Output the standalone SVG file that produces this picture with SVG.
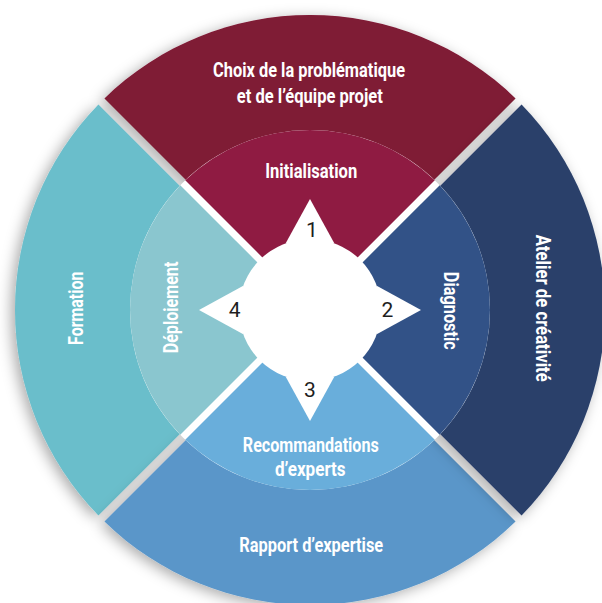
<svg xmlns="http://www.w3.org/2000/svg" width="602" height="603" viewBox="0 0 602 603">
  <defs>
    <filter id="sh" x="-20%" y="-20%" width="140%" height="140%">
      <feGaussianBlur in="SourceAlpha" stdDeviation="7"/>
      <feOffset dx="-4" dy="3" result="b"/>
      <feFlood flood-color="#000" flood-opacity="0.33"/>
      <feComposite in2="b" operator="in"/>
      <feMerge><feMergeNode/><feMergeNode in="SourceGraphic"/></feMerge>
    </filter>
  </defs>
  <style>
    .lbl { font-family: Roboto, "DejaVu Sans Condensed", "Liberation Sans", sans-serif; font-weight: 700; font-size: 20px; fill: #ffffff; text-anchor: middle; }
    .num { font-family: Roboto, "Liberation Sans", sans-serif; font-weight: 400; font-size: 21px; fill: #1e1e1e; text-anchor: middle; }
  </style>
  <rect width="602" height="603" fill="#ffffff"/>

  <!-- outer ring -->
  <g id="outer-top" filter="url(#sh)">
    <path d="M310,303.99 L104.43,98.42 A295,295 0 0 1 515.57,98.42 Z" fill="#7F1A35"/>
  </g>
  <g id="outer-left" filter="url(#sh)">
    <path d="M303.99,310 L98.42,515.57 A295,295 0 0 1 98.42,104.43 Z" fill="#6BBECB"/>
  </g>
  <g id="outer-bottom" filter="url(#sh)">
    <path d="M310,316.01 L515.57,521.58 A295,295 0 0 1 104.43,521.58 Z" fill="#5A96C9"/>
  </g>
  <g id="outer-right" filter="url(#sh)">
    <path d="M316.01,310 L521.58,104.43 A295,295 0 0 1 521.58,515.57 Z" fill="#2B416B"/>
  </g>

  <circle cx="310" cy="310" r="180" fill="#ffffff"/>

  <!-- inner ring -->
  <g id="inner-top">
    <path d="M310,305.05 L185.22,180.27 A180,180 0 0 1 434.78,180.27 Z" fill="#8F1B42"/>
  </g>
  <g id="inner-right">
    <path d="M314.95,310 L439.73,185.22 A180,180 0 0 1 439.73,434.78 Z" fill="#325287"/>
  </g>
  <g id="inner-bottom">
    <path d="M310,314.95 L434.78,439.73 A180,180 0 0 1 185.22,439.73 Z" fill="#69AEDB"/>
  </g>
  <g id="inner-left">
    <path d="M305.05,310 L180.27,434.78 A180,180 0 0 1 180.27,185.22 Z" fill="#8AC6CF"/>
  </g>

  <!-- labels -->
  <g id="label-choix">
    <text class="lbl" x="309" y="76.7" textLength="192" lengthAdjust="spacingAndGlyphs">Choix de la problématique</text>
    <text class="lbl" x="309.8" y="103" textLength="146" lengthAdjust="spacingAndGlyphs">et de l’équipe projet</text>
  </g>
  <g id="label-initialisation">
    <text class="lbl" x="311.2" y="178.3" textLength="92" lengthAdjust="spacingAndGlyphs">Initialisation</text>
  </g>
  <g id="label-atelier">
    <text class="lbl" transform="translate(536,308.3) rotate(90)" textLength="147" lengthAdjust="spacingAndGlyphs">Atelier de créativité</text>
  </g>
  <g id="label-diagnostic">
    <text class="lbl" transform="translate(444,310.8) rotate(90)" textLength="78" lengthAdjust="spacingAndGlyphs">Diagnostic</text>
  </g>
  <g id="label-formation">
    <text class="lbl" transform="translate(82.7,308.3) rotate(-90)" textLength="73.3" lengthAdjust="spacingAndGlyphs">Formation</text>
  </g>
  <g id="label-deploiement">
    <text class="lbl" transform="translate(178.3,307.5) rotate(-90)" textLength="91.7" lengthAdjust="spacingAndGlyphs">Déploiement</text>
  </g>
  <g id="label-recommandations">
    <text class="lbl" x="310.8" y="451.7" textLength="136" lengthAdjust="spacingAndGlyphs">Recommandations</text>
    <text class="lbl" x="310.3" y="476" textLength="70.7" lengthAdjust="spacingAndGlyphs">d’experts</text>
  </g>
  <g id="label-rapport">
    <text class="lbl" x="311.2" y="552.3" textLength="144" lengthAdjust="spacingAndGlyphs">Rapport d’expertise</text>
  </g>

  <!-- compass star -->
  <g id="compass" fill="#ffffff">
    <circle cx="310" cy="310" r="71"/>
    <polygon points="310,199 334.3,243.3 285.7,243.3"/>
    <polygon points="421,310 376.7,334.3 376.7,285.7"/>
    <polygon points="310,421 285.7,376.7 334.3,376.7"/>
    <polygon points="199,310 243.3,285.7 243.3,334.3"/>
    <text class="num" x="312" y="237.3">1</text>
    <text class="num" x="387.5" y="317.3">2</text>
    <text class="num" x="310" y="396.7">3</text>
    <text class="num" x="234.7" y="317.3">4</text>
  </g>

  <g id="connectors"/>
</svg>
